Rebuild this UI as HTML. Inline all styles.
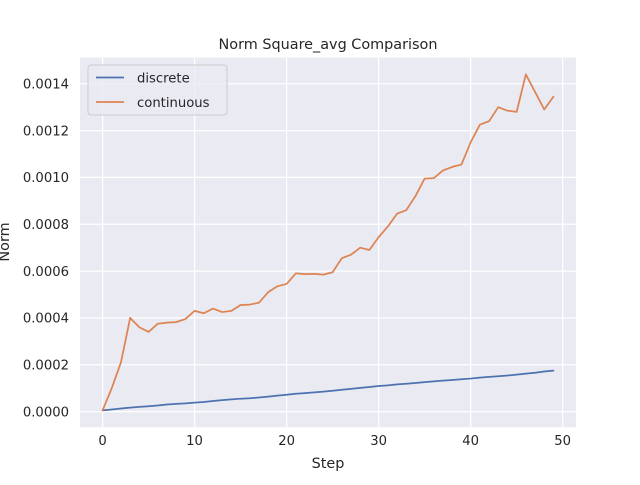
<!DOCTYPE html>
<html><head><meta charset="utf-8"><style>
body{margin:0;background:#fff;}
svg text{font-family:"DejaVu Sans","Liberation Sans",sans-serif;fill:#262626;}
</style></head><body>
<svg width="640" height="480" xmlns="http://www.w3.org/2000/svg">
<rect x="0" y="0" width="640" height="480" fill="#fff"/>
<rect x="80" y="57.6" width="496" height="369.6" fill="#eaeaf2"/>
<g id="grid"></g>
<g id="series"></g>
<g id="ticks"></g>
<text x="328" y="49" text-anchor="middle" font-size="14.4">Norm Square_avg Comparison</text>
<text x="328" y="468" text-anchor="middle" font-size="14.4">Step</text>
<text x="0" y="0" transform="translate(9,242) rotate(-90)" text-anchor="middle" font-size="14.4">Norm</text>
<g>
<rect x="88" y="65" width="139" height="50" rx="3" fill="#eaeaf2" fill-opacity="0.8" stroke="#cccccc" stroke-width="1"/>
<line x1="96" y1="77.5" x2="124" y2="77.5" stroke="#4c72b0" stroke-width="1.75"/>
<text x="137" y="82.5" font-size="13.2">discrete</text>
<line x1="96" y1="102" x2="124" y2="102" stroke="#dd8452" stroke-width="1.75"/>
<text x="137" y="107" font-size="13.2">continuous</text>
</g>
</svg>
<script>
const steps = Array.from({length:50},(_, i)=>i);
const discrete = [0.05,0.09,0.13,0.17,0.2,0.23,0.26,0.3,0.33,0.35,0.38,0.41,0.45,0.49,0.52,0.55,0.57,0.6,0.64,0.68,0.72,0.76,0.79,0.82,0.85,0.89,0.93,0.97,1.01,1.05,1.09,1.12,1.16,1.19,1.22,1.26,1.29,1.32,1.35,1.38,1.41,1.45,1.48,1.51,1.54,1.58,1.62,1.66,1.71,1.75];
const continuous = [0.05,1.0,2.1,4.0,3.6,3.4,3.75,3.8,3.82,3.95,4.3,4.2,4.4,4.25,4.3,4.55,4.57,4.65,5.1,5.35,5.45,5.9,5.87,5.88,5.85,5.95,6.55,6.7,7.0,6.9,7.45,7.9,8.45,8.6,9.2,9.95,9.97,10.3,10.45,10.55,11.5,12.25,12.4,13.0,12.85,12.8,14.4,13.65,12.9,13.45];
const xTicks = [0,10,20,30,40,50];
const yTicks = [0,0.0002,0.0004,0.0006,0.0008,0.0010,0.0012,0.0014];
const yTickLabels = ["0.0000","0.0002","0.0004","0.0006","0.0008","0.0010","0.0012","0.0014"];
const L=80,R=576,T=57.6,B=427.2;
const allV = discrete.concat(continuous).map(v=>v*1e-4);
const vmin=Math.min(...allV), vmax=Math.max(...allV), pad=(vmax-vmin)*0.05;
const y0=vmin-pad, y1=vmax+pad;
const x0=-0.05*(steps.length-1), x1=(steps.length-1)*1.05;
const sx=v=>L+(v-x0)/(x1-x0)*(R-L);
const sy=v=>B-(v-y0)/(y1-y0)*(B-T);
const NS="http://www.w3.org/2000/svg";
const g=document.getElementById('grid'), tk=document.getElementById('ticks'), se=document.getElementById('series');
function mk(tag,attrs,parent){const e=document.createElementNS(NS,tag);for(const k in attrs)e.setAttribute(k,attrs[k]);parent.appendChild(e);return e;}
xTicks.forEach(t=>{
  const ln=mk('line',{x1:sx(t),x2:sx(t),y1:T,y2:B,stroke:'#fff','stroke-width':1.25},g);
  
  
  const tx=mk('text',{x:sx(t),y:B+18,'text-anchor':'middle','font-size':13.2},tk);
  tx.textContent=t;
  
  
});
yTicks.forEach((t,i)=>{
  const ln=mk('line',{x1:L,x2:R,y1:sy(t),y2:sy(t),stroke:'#fff','stroke-width':1.25},g);
  
  
  const tx=mk('text',{x:L-11,y:sy(t)+4.8,'text-anchor':'end','font-size':13.2},tk);
  tx.textContent=yTickLabels[i];
  
  
});
function line(arr,color,name){
  const d=arr.map((v,i)=>(i?'L':'M')+sx(steps[i]).toFixed(2)+','+sy(v*1e-4).toFixed(2)).join('');
  const p=mk('path',{d:d,fill:'none',stroke:color,'stroke-width':1.75,'stroke-linejoin':'round','stroke-linecap':'round'},se);
  
  
}
line(discrete,'#4c72b0','discrete-line');
line(continuous,'#dd8452','continuous-line');
</script>
</body></html>
